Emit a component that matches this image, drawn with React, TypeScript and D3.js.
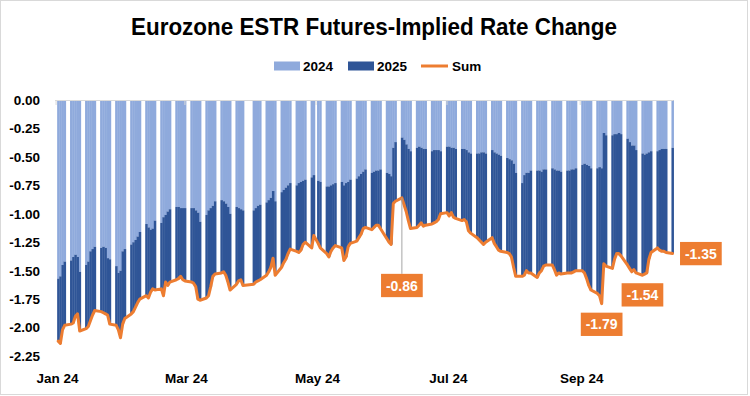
import React from "react";
import * as d3 from "d3";

const dates = [
"2024-01-02","2024-01-03","2024-01-04","2024-01-05",
"2024-01-08","2024-01-09","2024-01-10","2024-01-11","2024-01-12",
"2024-01-15","2024-01-16","2024-01-17","2024-01-18","2024-01-19",
"2024-01-22","2024-01-23","2024-01-24","2024-01-25","2024-01-26",
"2024-01-29","2024-01-30","2024-01-31","2024-02-01","2024-02-02",
"2024-02-05","2024-02-06","2024-02-07","2024-02-08","2024-02-09",
"2024-02-12","2024-02-13","2024-02-14","2024-02-15","2024-02-16",
"2024-02-19","2024-02-20","2024-02-21","2024-02-22","2024-02-23",
"2024-02-26","2024-02-27","2024-02-28","2024-02-29","2024-03-01",
"2024-03-04","2024-03-05","2024-03-06","2024-03-07","2024-03-08",
"2024-03-11","2024-03-12","2024-03-13","2024-03-14","2024-03-15",
"2024-03-18","2024-03-19","2024-03-20","2024-03-21","2024-03-22",
"2024-03-25","2024-03-26","2024-03-27","2024-03-28",
"2024-04-02","2024-04-03","2024-04-04","2024-04-05",
"2024-04-08","2024-04-09","2024-04-10","2024-04-11","2024-04-12",
"2024-04-15","2024-04-16","2024-04-17","2024-04-18","2024-04-19",
"2024-04-22","2024-04-23","2024-04-24","2024-04-25","2024-04-26",
"2024-04-29","2024-04-30","2024-05-02","2024-05-03",
"2024-05-06","2024-05-07","2024-05-08","2024-05-09","2024-05-10",
"2024-05-13","2024-05-14","2024-05-15","2024-05-16","2024-05-17",
"2024-05-20","2024-05-21","2024-05-22","2024-05-23","2024-05-24",
"2024-05-27","2024-05-28","2024-05-29","2024-05-30","2024-05-31",
"2024-06-03","2024-06-04","2024-06-05","2024-06-06","2024-06-07",
"2024-06-10","2024-06-11","2024-06-12","2024-06-13","2024-06-14",
"2024-06-17","2024-06-18","2024-06-19","2024-06-20","2024-06-21",
"2024-06-24","2024-06-25","2024-06-26","2024-06-27","2024-06-28",
"2024-07-01","2024-07-02","2024-07-03","2024-07-04","2024-07-05",
"2024-07-08","2024-07-09","2024-07-10","2024-07-11","2024-07-12",
"2024-07-15","2024-07-16","2024-07-17","2024-07-18","2024-07-19",
"2024-07-22","2024-07-23","2024-07-24","2024-07-25","2024-07-26",
"2024-07-29","2024-07-30","2024-07-31","2024-08-01","2024-08-02",
"2024-08-05","2024-08-06","2024-08-07","2024-08-08","2024-08-09",
"2024-08-12","2024-08-13","2024-08-14","2024-08-15","2024-08-16",
"2024-08-19","2024-08-20","2024-08-21","2024-08-22","2024-08-23",
"2024-08-26","2024-08-27","2024-08-28","2024-08-29","2024-08-30",
"2024-09-02","2024-09-03","2024-09-04","2024-09-05","2024-09-06",
"2024-09-09","2024-09-10","2024-09-11","2024-09-12","2024-09-13",
"2024-09-16","2024-09-17","2024-09-18","2024-09-19","2024-09-20",
"2024-09-23","2024-09-24","2024-09-25","2024-09-26","2024-09-27",
"2024-09-30","2024-10-01","2024-10-02","2024-10-03","2024-10-04",
"2024-10-07","2024-10-08","2024-10-09","2024-10-10","2024-10-11",
"2024-10-14",
];

// cumulative cuts priced for the rest of 2024 (top segment)
const rate2024 = [
-1.57,-1.55,-1.45,-1.42,
-1.41,-1.38,-1.36,-1.38,-1.51,
-1.45,-1.42,-1.33,-1.31,-1.29,
-1.30,-1.29,-1.30,-1.39,-1.40,
-1.46,-1.52,-1.50,-1.33,-1.31,
-1.27,-1.25,-1.23,-1.20,-1.16,
-1.09,-1.12,-1.14,-1.13,-1.06,
-1.08,-1.03,-1.01,-0.98,-0.96,
-0.94,-0.94,-0.95,-0.95,-0.95,
-0.95,-0.95,-0.97,-0.99,-1.07,
-1.01,-0.97,-0.95,-0.93,-0.89,
-0.88,-0.89,-0.91,-0.94,-1.00,
-0.94,-0.95,-0.96,-0.97,
-0.97,-0.95,-0.93,-0.92,
-0.90,-0.88,-0.86,-0.80,-0.89,
-0.81,-0.79,-0.77,-0.75,-0.73,
-0.75,-0.73,-0.72,-0.71,-0.70,
-0.68,-0.66,-0.71,-0.72,
-0.76,-0.76,-0.75,-0.74,-0.73,
-0.72,-0.75,-0.73,-0.72,-0.70,
-0.69,-0.67,-0.65,-0.63,-0.61,
-0.64,-0.63,-0.62,-0.62,-0.61,
-0.64,-0.65,-0.67,-0.42,-0.37,
-0.33,-0.35,-0.39,-0.43,-0.45,
-0.42,-0.41,-0.42,-0.43,-0.43,
-0.45,-0.44,-0.44,-0.44,-0.45,
-0.41,-0.41,-0.42,-0.42,-0.43,
-0.43,-0.43,-0.44,-0.46,-0.47,
-0.47,-0.47,-0.46,-0.46,-0.47,
-0.44,-0.46,-0.47,-0.48,-0.49,
-0.51,-0.52,-0.53,-0.56,-0.64,
-0.73,-0.66,-0.64,-0.64,-0.62,
-0.62,-0.62,-0.63,-0.61,-0.61,
-0.60,-0.61,-0.62,-0.62,-0.63,
-0.62,-0.62,-0.61,-0.61,-0.60,
-0.57,-0.56,-0.57,-0.58,-0.60,
-0.60,-0.59,-0.60,-0.29,-0.31,
-0.31,-0.30,-0.30,-0.29,-0.30,
-0.34,-0.37,-0.40,-0.40,-0.44,
-0.47,-0.48,-0.47,-0.46,-0.45,
-0.45,-0.44,-0.43,-0.43,-0.43,
-0.42,
];

// 2024 + 2025 total (line, and bottom of the stacked bars)
const rateSum = [
-2.12,-2.14,-2.02,-1.98,
-1.97,-1.96,-1.90,-1.88,-2.03,
-2.01,-1.99,-1.94,-1.89,-1.85,
-1.86,-1.87,-1.88,-1.89,-1.97,
-1.98,-2.02,-2.09,-1.97,-1.92,
-1.88,-1.86,-1.82,-1.78,-1.75,
-1.72,-1.74,-1.69,-1.66,-1.67,
-1.66,-1.72,-1.60,-1.63,-1.60,
-1.58,-1.57,-1.55,-1.58,-1.59,
-1.60,-1.61,-1.64,-1.75,-1.76,
-1.74,-1.72,-1.64,-1.55,-1.53,
-1.52,-1.51,-1.54,-1.60,-1.67,
-1.62,-1.59,-1.58,-1.63,
-1.62,-1.60,-1.59,-1.58,
-1.54,-1.51,-1.47,-1.39,-1.54,
-1.47,-1.43,-1.40,-1.35,-1.31,
-1.33,-1.34,-1.32,-1.27,-1.25,
-1.30,-1.19,-1.26,-1.30,
-1.35,-1.38,-1.33,-1.30,-1.28,
-1.30,-1.41,-1.38,-1.29,-1.26,
-1.24,-1.21,-1.18,-1.13,-1.12,
-1.14,-1.12,-1.10,-1.10,-1.13,
-1.22,-1.25,-1.27,-0.91,-0.89,
-0.86,-0.92,-0.98,-1.06,-1.13,
-1.12,-1.10,-1.08,-1.11,-1.10,
-1.09,-1.08,-1.07,-1.05,-1.00,
-0.99,-1.02,-0.99,-1.03,-1.04,
-1.06,-1.05,-1.07,-1.15,-1.17,
-1.21,-1.23,-1.25,-1.27,-1.25,
-1.21,-1.26,-1.29,-1.32,-1.33,
-1.34,-1.35,-1.38,-1.47,-1.55,
-1.55,-1.54,-1.50,-1.52,-1.52,
-1.56,-1.52,-1.50,-1.46,-1.45,
-1.45,-1.49,-1.54,-1.52,-1.53,
-1.52,-1.52,-1.52,-1.51,-1.50,
-1.50,-1.52,-1.57,-1.63,-1.67,
-1.70,-1.72,-1.79,-1.44,-1.46,
-1.48,-1.40,-1.35,-1.35,-1.37,
-1.45,-1.48,-1.51,-1.49,-1.52,
-1.54,-1.53,-1.52,-1.40,-1.34,
-1.30,-1.32,-1.33,-1.33,-1.34,
-1.35,
];

const seriesNames = ["2024", "2025", "Sum"];
const yTicks = [0, -0.25, -0.5, -0.75, -1, -1.25, -1.5, -1.75, -2, -2.25];
const xTickDates = ["2024-01-01", "2024-03-01", "2024-05-01", "2024-07-01", "2024-09-01"];
const xTickLabels = ["Jan 24", "Mar 24", "May 24", "Jul 24", "Sep 24"];
const calloutDates = ["2024-06-10", "2024-09-11", "2024-09-30", "2024-10-14"];

const C_2024 = "#8FAADC";
const C_2025 = "#2F5597";
const C_SUM = "#ED7D31";
const FONT = "'Liberation Sans', Arial, sans-serif";

export default function App() {
  const W = 750;
  const H = 396;
  const parse = d3.utcParse("%Y-%m-%d");

  const x = d3
    .scaleUtc()
    .domain([parse("2024-01-01") as Date, parse("2024-10-15") as Date])
    .range([55, 673.6]);
  const y = d3.scaleLinear().domain([0, -2.25]).range([100, 356]);

  const rows = dates.map((d, i) => ({
    date: parse(d) as Date,
    a: rate2024[i],
    b: +(rateSum[i] - rate2024[i]).toFixed(4),
    s: rateSum[i],
  }));

  const stacked = d3
    .stack<any>()
    .keys(["a", "b"])
    .offset(d3.stackOffsetDiverging)(rows);

  const dayX0 = (d: Date) => x(d);
  const dayX1 = (d: Date) => x(d3.utcDay.offset(d, 1));
  const dayMid = (d: Date) => (dayX0(d) + dayX1(d)) / 2;

  const line = d3
    .line<any>()
    .x((r) => dayMid(r.date))
    .y((r) => y(r.s));

  const colors = [C_2024, C_2025];
  const fmt = (v: number) => v.toFixed(2);

  const boxW = 41.7;
  const boxH = 23.3;

  const callouts = calloutDates.map((ds, k) => {
    const i = dates.indexOf(ds);
    const r = rows[i];
    const px = dayMid(r.date);
    const py = y(r.s);
    let bx = px - boxW / 2;
    let by = py + 9;
    let leader: null | [number, number, number, number] = null;
    if (k === 0) {
      by = py + 76;
      leader = [px, py, px, by];
    } else if (k === 2) {
      by = py + 8;
    } else if (k === 3) {
      bx = px + 7.5;
      by = py - boxH / 2;
    }
    return { px, py, bx, by, leader, text: fmt(r.s) };
  });

  return (
    <svg
      width={W}
      height={H}
      viewBox={`0 0 ${W} ${H}`}
      style={{ position: "absolute", left: 0, top: 0, background: "#fff" }}
      fontFamily={FONT}
    >
      <rect x={0} y={0} width={W} height={H} fill="#fff" />
      <rect x={0.5} y={0.5} width={747} height={394} fill="none" stroke="#d9d9d9" />

      <text
        x={374}
        y={35}
        textAnchor="middle"
        fontSize={23}
        fontWeight="bold"
        textLength={486}
        lengthAdjust="spacingAndGlyphs"
        fill="#000"
      >
        Eurozone ESTR Futures-Implied Rate Change
      </text>

      {/* legend */}
      <g fontSize={13.5} fontWeight="bold" fill="#000">
        <rect x={274} y={61.5} width={26} height={9} fill={C_2024} />
        <text x={303} y={71}>{seriesNames[0]}</text>
        <rect x={348} y={61.5} width={26} height={9} fill={C_2025} />
        <text x={377} y={71}>{seriesNames[1]}</text>
        <line x1={421} x2={448} y1={66} y2={66} stroke={C_SUM} strokeWidth={3} />
        <text x={452} y={71}>{seriesNames[2]}</text>
      </g>

      {/* bars */}
      {stacked.map((layer, li) => (
        <g key={li} fill={colors[li]}>
          {layer.map((seg, i) => {
            const d = rows[i].date;
            const x0 = dayX0(d);
            const w = dayX1(d) - x0 + 0.35;
            const y0 = y(Math.max(seg[0], seg[1]));
            const y1 = y(Math.min(seg[0], seg[1]));
            return <rect key={i} x={x0} y={y0} width={w} height={Math.max(0, y1 - y0)} />;
          })}
        </g>
      ))}

      {/* category axis at zero */}
      <line x1={55} x2={673.6} y1={100.5} y2={100.5} stroke="#d9d9d9" strokeWidth={1} />
      {xTickDates.map((ds, i) => {
        const d = parse(ds) as Date;
        const tx = dayMid(d);
        return (
          <g key={i}>
            <line x1={tx} x2={tx} y1={100} y2={105} stroke="#d9d9d9" />
            <text
              x={tx + 1.5}
              y={383}
              textAnchor="middle"
              fontSize={13.5}
              fontWeight="bold"
              fill="#000"
            >
              {xTickLabels[i]}
            </text>
          </g>
        );
      })}

      {/* value axis labels */}
      {yTicks.map((v, i) => (
        <text
          key={i}
          x={40}
          y={y(v)}
          dy="0.36em"
          textAnchor="end"
          fontSize={13.5}
          fontWeight="bold"
          fill="#000"
        >
          {fmt(v)}
        </text>
      ))}

      {/* sum line */}
      <path
        d={line(rows) || ""}
        fill="none"
        stroke={C_SUM}
        strokeWidth={3}
        strokeLinejoin="round"
        strokeLinecap="round"
      />

      {/* callouts */}
      {callouts.map((c, i) => (
        <g key={i}>
          {c.leader && (
            <line
              x1={c.leader[0]}
              y1={c.leader[1]}
              x2={c.leader[2]}
              y2={c.leader[3]}
              stroke="#a6a6a6"
              strokeWidth={1}
            />
          )}
          <rect x={c.bx} y={c.by} width={boxW} height={boxH} fill={C_SUM} />
          <text
            x={c.bx + boxW / 2}
            y={c.by + boxH / 2}
            dy="0.36em"
            textAnchor="middle"
            fontSize={14}
            fontWeight="bold"
            fill="#fff"
          >
            {c.text}
          </text>
        </g>
      ))}
    </svg>
  );
}
